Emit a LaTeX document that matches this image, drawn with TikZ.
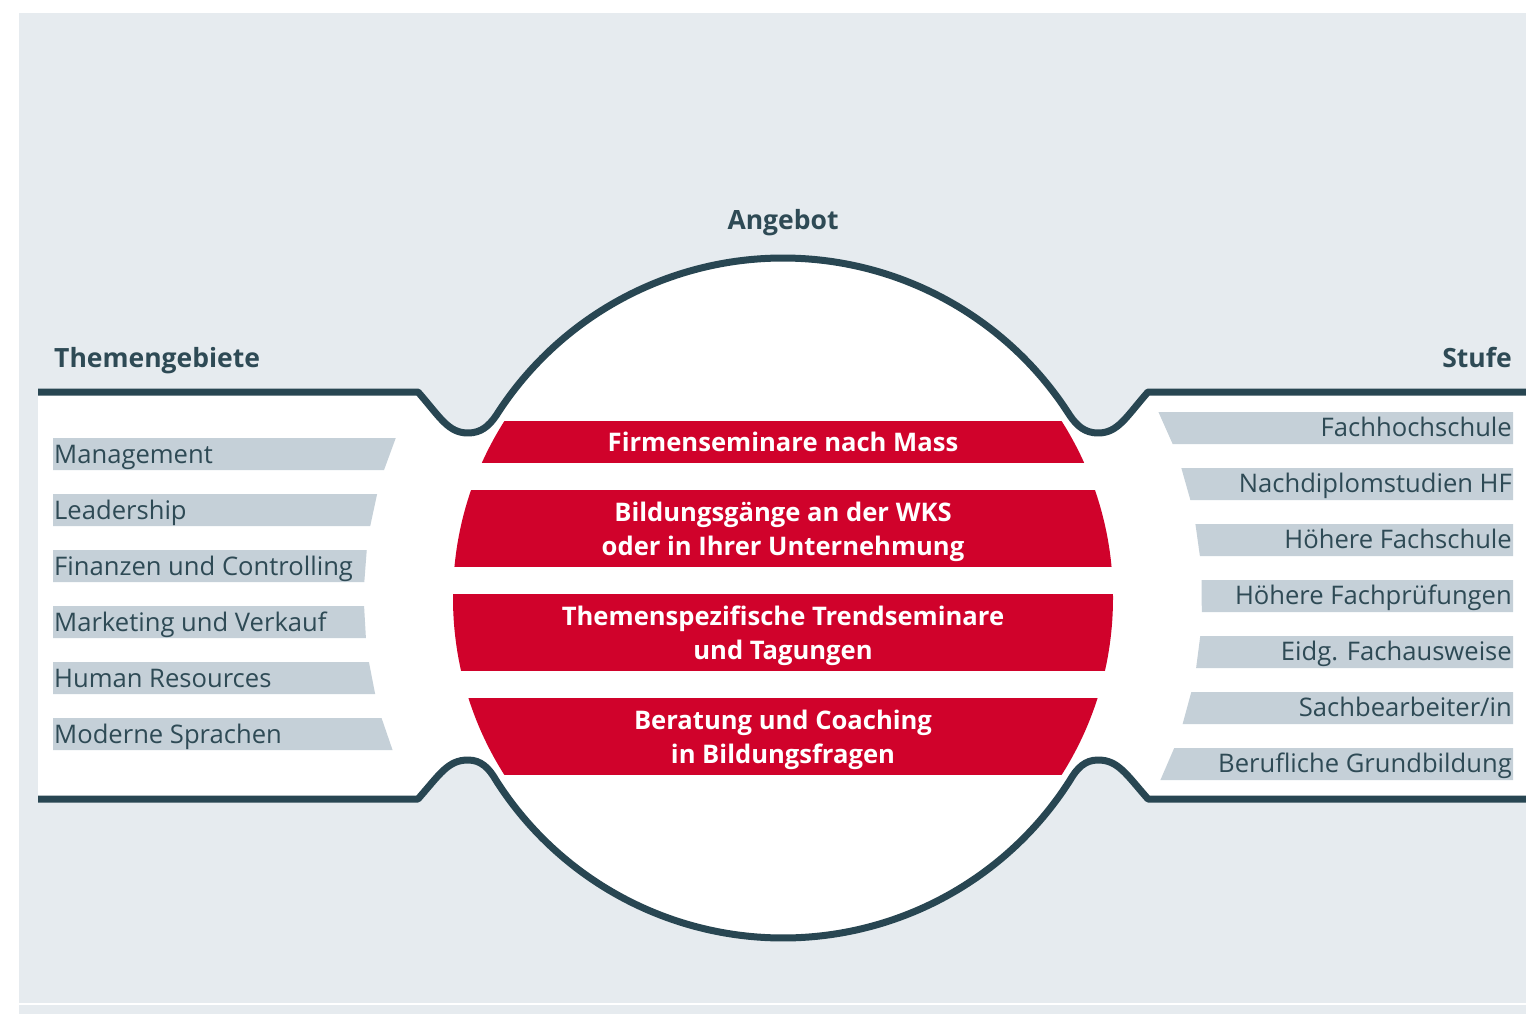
\documentclass[tikz,border=0pt]{standalone}
\usepackage{fontspec}
\setmainfont{Open Sans}
\usetikzlibrary{calc}
\definecolor{bg}{HTML}{E6EBEF}
\definecolor{dark}{HTML}{284652}
\definecolor{wred}{HTML}{D0022B}
\definecolor{barcol}{HTML}{C5D0D8}
\definecolor{txt}{HTML}{2E4A55}
\tikzset{
  outline/.style={draw=dark, line width=7pt, line join=round},
  listtext/.style={font=\fontsize{25.6}{30}\selectfont, text=txt, inner sep=0pt},
  headtext/.style={font=\fontsize{26.5}{30}\selectfont\bfseries, text=txt, inner sep=0pt},
  bandtext/.style={font=\fontsize{25.6}{34}\selectfont\bfseries, text=white, inner sep=0pt, align=center},
  barshape/.style={fill=barcol}
}
\begin{document}
\begin{tikzpicture}[x=1pt,y=1pt,yscale=-1]
\useasboundingbox (0,0) rectangle (1526,1014);
\fill[bg] (19,13) rectangle (1526,1003);
\fill[bg] (19,1005) rectangle (1526,1014);
\coordinate (c) at (783,598);
% white body
\fill[white] (38,392) -- (418,392) .. controls (440,417) and (448,433) .. (468,433)
  .. controls (481,433) and (489,426) .. ($(c)+(212.5:340)$)
  arc[start angle=212.5, end angle=327.5, radius=340]
  .. controls (1077,426) and (1085,433) .. (1098,433)
  .. controls (1118,433) and (1126,417) .. (1148,392) -- (1526,392)
  -- (1526,799) -- (1148,799) .. controls (1126,774) and (1118,760) .. (1098,760)
  .. controls (1085,760) and (1077,768) .. ($(c)+(32.5:340)$)
  arc[start angle=32.5, end angle=147.5, radius=340]
  .. controls (489,768) and (481,760) .. (468,760)
  .. controls (448,760) and (440,774) .. (418,799) -- (38,799) -- cycle;
% outlines
\draw[outline] (38,392) -- (418,392) .. controls (440,417) and (448,433) .. (468,433)
  .. controls (481,433) and (489,426) .. ($(c)+(212.5:340)$)
  arc[start angle=212.5, end angle=327.5, radius=340]
  .. controls (1077,426) and (1085,433) .. (1098,433)
  .. controls (1118,433) and (1126,417) .. (1148,392) -- (1526,392);
\draw[outline] (1526,799) -- (1148,799) .. controls (1126,774) and (1118,760) .. (1098,760)
  .. controls (1085,760) and (1077,768) .. ($(c)+(32.5:340)$)
  arc[start angle=32.5, end angle=147.5, radius=340]
  .. controls (489,768) and (481,760) .. (468,760)
  .. controls (448,760) and (440,774) .. (418,799) -- (38,799);
% red bands
\begin{scope}
  \clip (c) circle[radius=330];
  \fill[wred] (400,421) rectangle (1200,463);
  \fill[wred] (400,490) rectangle (1200,567);
  \fill[wred] (400,594) rectangle (1200,671);
  \fill[wred] (400,698) rectangle (1200,775);
\end{scope}
\node[bandtext, anchor=base] (b1) at (783,451) {Firmenseminare nach Mass};
\node[bandtext] (b2) at (783,532) {Bildungsgänge an der WKS\\oder in Ihrer Unternehmung};
\node[bandtext] (b3) at (783,636) {Themenspezifische Trendseminare\\und Tagungen};
\node[bandtext] (b4) at (783,740) {Beratung und Coaching\\in Bildungsfragen};
% headings
\node[headtext, anchor=base] (angebot) at (783,229) {Angebot};
\node[headtext, anchor=base west] (themen) at (54,367) {Themengebiete};
\node[headtext, anchor=base east] (stufe) at (1512,367) {Stufe};
% left bars
\foreach \t/\y/\n in {Management/438/l1, Leadership/494/l2, Finanzen und Controlling/550/l3,
  Marketing und Verkauf/606/l4, Human Resources/662/l5, Moderne Sprachen/718/l6}{
  \pgfmathsetmacro\xa{783-10*sqrt(41.9^2-((\y-598)/10)^2)}
  \pgfmathsetmacro\xb{783-10*sqrt(41.9^2-((\y+32-598)/10)^2)}
  \fill[barshape] (53,\y) -- (\xa,\y) -- (\xb,\y+32) -- (53,\y+32) -- cycle;
  \node[listtext, anchor=base west] (\n) at (54,\y+25) {\t};
}
% right bars
\foreach \t/\y/\n in {Fachhochschule/412/r1, Nachdiplomstudien HF/468/r2, Höhere Fachschule/524/r3,
  Höhere Fachprüfungen/580/r4, Eidg. Fachausweise/636/r5, {Sachbearbeiter/in}/692/r6,
  Berufliche Grundbildung/748/r7}{
  \pgfmathsetmacro\xa{783+10*sqrt(41.9^2-((\y-598)/10)^2)}
  \pgfmathsetmacro\xb{783+10*sqrt(41.9^2-((\y+32-598)/10)^2)}
  \fill[barshape] (1513,\y) -- (\xa,\y) -- (\xb,\y+32) -- (1513,\y+32) -- cycle;
  \node[listtext, anchor=base east] (\n) at (1512,\y+24) {\t};
}
\end{tikzpicture}
\end{document}
